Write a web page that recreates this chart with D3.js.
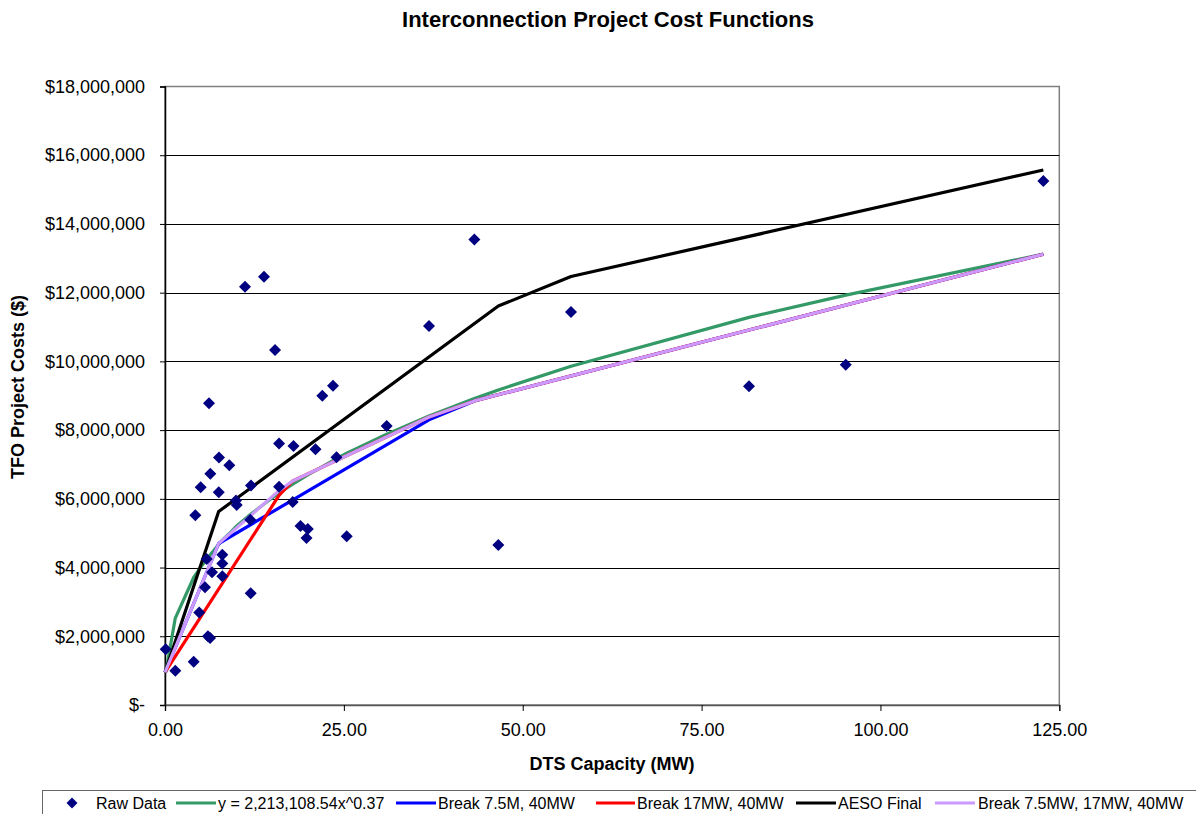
<!DOCTYPE html>
<html><head><meta charset="utf-8">
<script src="https://cdn.jsdelivr.net/npm/d3@7"></script>
<style>
html,body{margin:0;padding:0;background:#fff;}
svg{display:block;font-family:"Liberation Sans",Arial,sans-serif;}
</style></head>
<body><svg id="chart" width="1196" height="814"></svg>
<script>
// ---- data ----
const rawX = [0.1,1.44,4.01,4.79,4.24,4.99,5.59,5.83,6.15,6.0,6.3,6.33,6.57,7.55,7.51,8.01,8.01,8.01,8.99,9.92,10.02,11.18,12.02,11.92,11.98,13.84,15.38,15.94,15.94,17.85,17.96,18.94,19.96,19.78,21.04,21.99,23.48,23.97,25.40,30.99,36.9,43.24,46.59,56.75,81.63,95.15,122.77];
const rawY = [1.62,1.00,1.26,2.69,5.52,6.34,3.43,4.25,8.78,2.00,1.95,6.73,3.86,7.20,6.19,4.37,4.12,3.75,6.98,5.95,5.82,12.17,6.39,5.39,3.25,12.46,10.33,7.61,6.35,5.91,7.54,5.21,5.12,4.86,7.44,9.00,9.29,7.21,4.91,8.12,11.03,13.55,4.66,11.44,9.28,9.90,15.25];

const powerX = [0.1,1.44,4.01,4.79,5.59,6.15,7.51,8.01,8.99,10.02,11.98,13.84,15.94,17.96,19.96,21.99,23.97,25.40,30.99,36.9,43.24,46.59,56.75,81.63,95.15,122.77];
const powerY = [0.94,2.53,3.71,3.95,4.18,4.33,4.67,4.80,4.99,5.21,5.55,5.85,6.17,6.44,6.70,6.94,7.17,7.33,7.88,8.41,8.92,9.17,9.86,11.28,11.93,13.12];

const blueX = [0,7.5,36.9,43.24,122.77];
const blueY = [0.95,4.70,8.30,8.85,13.12];

const redX = [0,15.94,17.85,36.9,43.24,122.77];
const redY = [0.95,6.10,6.52,8.38,8.85,13.12];

const aesoX = [0,7.5,46.59,56.75,122.77];
const aesoY = [0.95,5.63,11.61,12.47,15.57];

const purpleX = [0,7.5,15.94,17.85,36.9,43.24,122.77];
const purpleY = [0.95,4.70,6.24,6.52,8.38,8.85,13.12];

const xTicks = [0,25,50,75,100,125];
const yTicks = [0,2,4,6,8,10,12,14,16,18]; // millions

const seriesNames = ["Raw Data","y = 2,213,108.54x^0.37","Break 7.5M, 40MW","Break 17MW, 40MW","AESO Final","Break 7.5MW, 17MW, 40MW"];

// ---- drawing ----
const svg = d3.select("#chart");
const L = 165, R = 1059.3, T = 86.5, B = 705;
const x = d3.scaleLinear().domain([0,125]).range([L,R]);
const y = d3.scaleLinear().domain([0,18]).range([B,T]);

// plot area border
svg.append("rect").attr("x",L).attr("y",T).attr("width",R-L).attr("height",B-T)
  .attr("fill","none").attr("stroke","#808080").attr("stroke-width",1.5);

// gridlines
svg.append("g").selectAll("line").data(yTicks.filter(d=>d>0 && d<18)).join("line")
  .attr("x1",L).attr("x2",R).attr("y1",d=>Math.round(y(d))+0.5).attr("y2",d=>Math.round(y(d))+0.5)
  .attr("stroke","#000").attr("stroke-width",1);

// y axis
const fmtY = d => d===0 ? "$-" : "$" + d3.format(",")(d*1000000);
const yAxis = d3.axisLeft(y).tickValues(yTicks).tickFormat(fmtY).tickSize(5).tickPadding(15);
const gy = svg.append("g").attr("transform",`translate(${L},0)`).call(yAxis);
gy.select(".domain").attr("stroke","#000").attr("stroke-width",1.5);
gy.selectAll(".tick line").attr("stroke","#000");
gy.selectAll("text").attr("font-size",18).attr("fill","#000").attr("font-family","Liberation Sans, Arial, sans-serif");

// x axis
const xAxis = d3.axisBottom(x).tickValues(xTicks).tickFormat(d3.format(".2f")).tickSize(6).tickPadding(12);
const gx = svg.append("g").attr("transform",`translate(0,${B})`).call(xAxis);
gx.select(".domain").attr("stroke","#555").attr("stroke-width",1.5);
gx.selectAll(".tick line").attr("stroke","#000");
gx.selectAll("text").attr("font-size",18).attr("fill","#000").attr("font-family","Liberation Sans, Arial, sans-serif");

// titles
svg.append("text").attr("x",608).attr("y",27).attr("text-anchor","middle")
  .attr("font-size",22).attr("font-weight","bold").text("Interconnection Project Cost Functions");
svg.append("text").attr("x",612).attr("y",770).attr("text-anchor","middle")
  .attr("font-size",18).attr("font-weight","bold").text("DTS Capacity (MW)");
svg.append("text").attr("transform","translate(24,387) rotate(-90)").attr("text-anchor","middle")
  .attr("font-size",18).attr("font-weight","bold").text("TFO Project Costs ($)");

// lines
const line = d3.line().x(d=>x(d[0])).y(d=>y(d[1]));
const lineSeries = [
  {xs:powerX, ys:powerY, color:"#339966"},
  {xs:blueX, ys:blueY, color:"#0000FF"},
  {xs:redX, ys:redY, color:"#FF0000"},
  {xs:aesoX, ys:aesoY, color:"#000000"},
  {xs:purpleX, ys:purpleY, color:"#CC99FF"}
];
lineSeries.forEach(s=>{
  svg.append("path").datum(d3.zip(s.xs,s.ys)).attr("d",line)
    .attr("fill","none").attr("stroke",s.color).attr("stroke-width",3.2).attr("stroke-linejoin","round");
});

// raw points
const dia = (cx,cy,r)=>`M${cx},${cy-r}L${cx+r},${cy}L${cx},${cy+r}L${cx-r},${cy}Z`;
svg.append("g").selectAll("path").data(d3.zip(rawX,rawY)).join("path")
  .attr("d",d=>dia(x(d[0]),y(d[1]),6)).attr("fill","#000080");

// legend
const lg = svg.append("g");
lg.append("rect").attr("x",42.5).attr("y",790.5).attr("width",1200).attr("height",40)
  .attr("fill","#fff").attr("stroke","#666").attr("stroke-width",1);
const ly = 803;
lg.append("path").attr("d",dia(72,ly,5.5)).attr("fill","#000080");
const items = [
  {tx:96, text:seriesNames[0]},
  {l0:176,l1:216,color:"#339966",tx:218,text:seriesNames[1]},
  {l0:396,l1:436,color:"#0000FF",tx:438,text:seriesNames[2]},
  {l0:596,l1:635,color:"#FF0000",tx:637,text:seriesNames[3]},
  {l0:796,l1:836,color:"#000000",tx:838,text:seriesNames[4]},
  {l0:935,l1:975,color:"#CC99FF",tx:978,text:seriesNames[5]}
];
items.forEach(it=>{
  if(it.color) lg.append("line").attr("x1",it.l0).attr("x2",it.l1).attr("y1",ly).attr("y2",ly)
    .attr("stroke",it.color).attr("stroke-width",3.2);
  lg.append("text").attr("x",it.tx).attr("y",ly+5.5).attr("font-size",16).text(it.text);
});
</script></body></html>
